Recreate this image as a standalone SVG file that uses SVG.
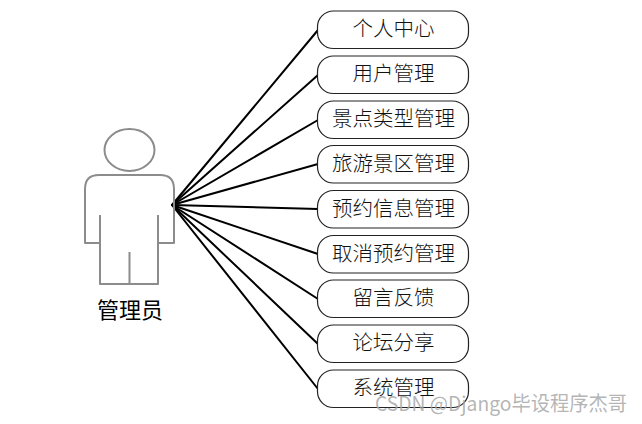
<svg xmlns="http://www.w3.org/2000/svg" width="642" height="424" viewBox="0 0 642 424">
<style>
.bg{fill:#fff}
.box{fill:#fff;stroke:#222;stroke-width:1.2}
.lbl{font-family:"Noto Sans CJK SC","Noto Sans",sans-serif;font-size:20.500px;font-weight:300;fill:#111;text-anchor:middle}
.conn line{stroke:#000;stroke-width:2;stroke-linecap:round}
.act{fill:none;stroke:#8c8c8c;stroke-width:2;stroke-linejoin:round}
.actl{font-family:"Noto Sans CJK SC","Noto Sans",sans-serif;font-size:22px;font-weight:400;fill:#000;text-anchor:middle}
.wm{font-family:"Noto Sans CJK SC","Noto Sans",sans-serif;font-size:20px;fill:#a8a8a8;fill-opacity:.85}
</style>
<rect class="bg" width="642" height="424"/>
<g id="connectors" class="conn">
<line x1="172" y1="205" x2="318" y2="30"/>
<line x1="172" y1="205" x2="318" y2="75"/>
<line x1="172" y1="205" x2="318" y2="120"/>
<line x1="172" y1="205" x2="318" y2="164"/>
<line x1="172" y1="205" x2="318" y2="209"/>
<line x1="172" y1="205" x2="318" y2="254"/>
<line x1="172" y1="205" x2="318" y2="299"/>
<line x1="172" y1="205" x2="318" y2="344"/>
<line x1="172" y1="205" x2="318" y2="389"/>
</g>
<g id="actor">
<ellipse class="act" cx="129.500" cy="150" rx="25" ry="21"/>
<path class="act" d="M100 243H85V189Q85 175 99 175H160Q174 175 174 189V243H158M100 215V284H158V215M129.500 252V284"/>
<text class="actl" x="130" y="318">管理员</text>
</g>
<g id="n1"><rect class="box" x="317.500" y="11" width="151" height="37.500" rx="16"/><text class="lbl" x="393.500" y="36">个人中心</text></g>
<g id="n2"><rect class="box" x="317.500" y="56" width="151" height="37.500" rx="16"/><text class="lbl" x="393.500" y="81">用户管理</text></g>
<g id="n3"><rect class="box" x="317.500" y="101" width="151" height="37.500" rx="16"/><text class="lbl" x="393.500" y="126">景点类型管理</text></g>
<g id="n4"><rect class="box" x="317.500" y="145.500" width="151" height="37.500" rx="16"/><text class="lbl" x="393.500" y="170.500">旅游景区管理</text></g>
<g id="n5"><rect class="box" x="317.500" y="190.500" width="151" height="37.500" rx="16"/><text class="lbl" x="393.500" y="215.500">预约信息管理</text></g>
<g id="n6"><rect class="box" x="317.500" y="235.500" width="151" height="37.500" rx="16"/><text class="lbl" x="393.500" y="260.500">取消预约管理</text></g>
<g id="n7"><rect class="box" x="317.500" y="280" width="151" height="37.500" rx="16"/><text class="lbl" x="393.500" y="305">留言反馈</text></g>
<g id="n8"><rect class="box" x="317.500" y="325" width="151" height="37.500" rx="16"/><text class="lbl" x="393.500" y="350">论坛分享</text></g>
<g id="n9"><rect class="box" x="317.500" y="370" width="151" height="37.500" rx="16"/><text class="lbl" x="393.500" y="395">系统管理</text></g>
<text class="wm" x="375" y="411" textLength="252" lengthAdjust="spacingAndGlyphs">CSDN @Django毕设程序杰哥</text>
</svg>
